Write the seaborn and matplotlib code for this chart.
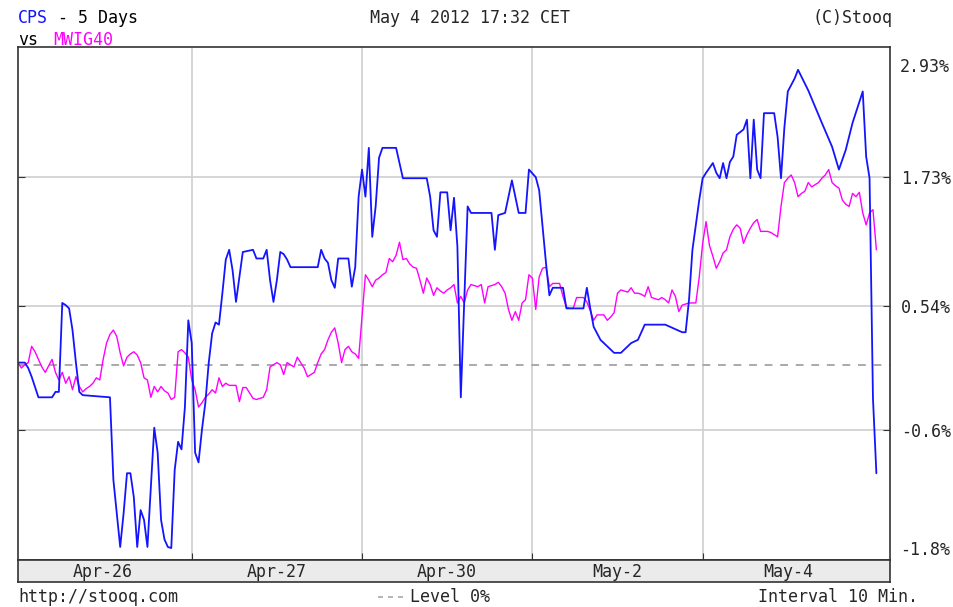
import matplotlib
matplotlib.use("Agg")
import matplotlib.pyplot as plt
from matplotlib.lines import Line2D
import seaborn as sns
import numpy as np
import pandas as pd

# time axis = 10-minute bars counted from the first session (Apr-26 09:00)
day_start = [0, 51, 101, 151, 201]
day_labels = ["Apr-26", "Apr-27", "Apr-30", "May-2", "May-4"]

# CPS: change in % vs. start, read at the turning points of the line
cps_bar = [0, 2, 3, 4, 6, 10, 11, 12, 13, 14, 15, 16, 17, 18, 19, 27, 28, 29, 30, 31,
           32, 33, 34, 35, 36, 37, 38, 39, 40, 41, 42, 43, 44, 45, 46, 47, 48, 49, 50, 51,
           52, 53, 54, 55, 56, 57, 58, 59, 60, 61, 62, 63, 64, 65, 66, 69, 70, 72, 73, 74,
           75, 76, 77, 78, 79, 80, 88, 89, 90, 91, 92, 93, 94, 97, 98, 99, 100, 101, 102, 103,
           104, 105, 106, 107, 111, 113, 120, 121, 122, 123, 124, 126, 127, 128, 129, 130, 131, 132, 133, 139,
           140, 141, 143, 144, 145, 146, 147, 149, 150, 152, 153, 154, 155, 156, 157, 160, 161, 166, 167, 168,
           169, 171, 175, 177, 180, 182, 184, 190, 195, 196, 197, 198, 200, 201, 202, 204, 205, 206, 207, 208,
           209, 210, 211, 213, 214, 215, 216, 217, 218, 219, 222, 223, 224, 225, 226, 228, 229, 232, 236, 239,
           241, 243, 245, 248, 249, 250, 251, 252]
cps_pct = [0.02, 0.02, -0.03, -0.11, -0.30, -0.30, -0.25, -0.25, 0.57, 0.55, 0.52, 0.32, 0.02, -0.25, -0.28, -0.30, -1.06, -1.37, -1.68, -1.37,
           -1.00, -1.00, -1.22, -1.68, -1.34, -1.43, -1.68, -1.13, -0.58, -0.81, -1.43, -1.61, -1.68, -1.69, -0.97, -0.71, -0.78, -0.39, 0.41, 0.20,
           -0.81, -0.90, -0.60, -0.35, 0.02, 0.29, 0.39, 0.37, 0.66, 0.97, 1.06, 0.87, 0.58, 0.81, 1.04, 1.06, 0.98, 0.98, 1.06, 0.78,
           0.58, 0.78, 1.04, 1.02, 0.97, 0.90, 0.90, 1.06, 0.98, 0.94, 0.78, 0.71, 0.98, 0.98, 0.72, 0.90, 1.55, 1.80, 1.55, 2.00,
           1.18, 1.46, 1.91, 2.00, 2.00, 1.72, 1.72, 1.55, 1.24, 1.18, 1.59, 1.59, 1.24, 1.54, 1.09, -0.30, 0.57, 1.46, 1.40, 1.40,
           1.06, 1.38, 1.40, 1.55, 1.70, 1.55, 1.40, 1.40, 1.80, 1.73, 1.61, 1.27, 0.94, 0.64, 0.71, 0.71, 0.52, 0.52, 0.71, 0.52,
           0.35, 0.23, 0.11, 0.11, 0.20, 0.23, 0.37, 0.37, 0.30, 0.30, 0.60, 1.06, 1.52, 1.72, 1.77, 1.86, 1.77, 1.72, 1.86, 1.72,
           1.87, 1.92, 2.12, 2.17, 2.26, 1.72, 2.26, 1.80, 1.72, 2.32, 2.32, 2.10, 1.72, 2.19, 2.52, 2.64, 2.72, 2.53, 2.23, 2.01,
           1.80, 1.98, 2.23, 2.52, 1.92, 1.72, -0.31, -1.00]

# MWIG40: change in %, one value per 10-minute bar
mwig40_pct = [
    0.02, -0.03, 0.00, 0.02, 0.17, 0.12, 0.05, -0.02, -0.07, -0.01,
    0.05, -0.07, -0.14, -0.07, -0.17, -0.11, -0.23, -0.11, -0.20, -0.25,
    -0.22, -0.20, -0.17, -0.12, -0.14, 0.05, 0.20, 0.28, 0.32, 0.26,
    0.11, -0.01, 0.07, 0.10, 0.12, 0.09, 0.02, -0.12, -0.14, -0.30,
    -0.20, -0.25, -0.20, -0.24, -0.26, -0.32, -0.30, 0.12, 0.14, 0.11,
    0.07, -0.14, -0.23, -0.39, -0.35, -0.30, -0.27, -0.23, -0.26, -0.12,
    -0.20, -0.17, -0.19, -0.19, -0.19, -0.34, -0.21, -0.21, -0.26, -0.31,
    -0.32, -0.31, -0.30, -0.23, -0.02, 0.00, 0.02, 0.00, -0.09, 0.02,
    0.00, -0.02, 0.07, 0.02, -0.03, -0.11, -0.09, -0.07, 0.02, 0.10,
    0.14, 0.23, 0.30, 0.34, 0.20, 0.02, 0.14, 0.17, 0.12, 0.10,
    0.06, 0.45, 0.83, 0.78, 0.72, 0.78, 0.80, 0.83, 0.85, 0.98,
    0.95, 1.01, 1.13, 0.97, 0.98, 0.93, 0.90, 0.89, 0.78, 0.66,
    0.80, 0.74, 0.64, 0.71, 0.68, 0.66, 0.69, 0.71, 0.74, 0.57,
    0.63, 0.57, 0.69, 0.74, 0.73, 0.72, 0.74, 0.57, 0.72, 0.73,
    0.74, 0.76, 0.72, 0.66, 0.51, 0.41, 0.49, 0.41, 0.57, 0.60,
    0.83, 0.80, 0.51, 0.81, 0.89, 0.90, 0.72, 0.75, 0.75, 0.75,
    0.63, 0.53, 0.52, 0.52, 0.62, 0.62, 0.62, 0.58, 0.50, 0.41,
    0.46, 0.46, 0.46, 0.41, 0.44, 0.48, 0.66, 0.69, 0.68, 0.67,
    0.71, 0.66, 0.66, 0.65, 0.63, 0.72, 0.62, 0.61, 0.60, 0.62,
    0.60, 0.57, 0.69, 0.63, 0.49, 0.55, 0.56, 0.57, 0.57, 0.57,
    0.81, 1.12, 1.32, 1.10, 1.00, 0.89, 0.95, 1.03, 1.06, 1.18,
    1.25, 1.29, 1.26, 1.12, 1.20, 1.26, 1.31, 1.34, 1.23, 1.23,
    1.23, 1.22, 1.20, 1.18, 1.46, 1.68, 1.72, 1.75, 1.68, 1.55,
    1.58, 1.60, 1.68, 1.64, 1.66, 1.68, 1.72, 1.75, 1.80, 1.68,
    1.65, 1.63, 1.52, 1.48, 1.46, 1.58, 1.55, 1.59, 1.40, 1.29,
    1.40, 1.43, 1.06,
]

grid_pct = [1.73, 0.54, -0.6]
grid_labels = ["1.73%", "0.54%", "-0.6%"]
y_top, y_bottom = 2.93, -1.8

BLUE = "#1414ff"
MAGENTA = "#ff00ff"

sns.set_style("white")
plt.rcParams["font.family"] = ["DejaVu Sans Mono"]
plt.rcParams["font.size"] = 12

W, H = 954, 607
fig = plt.figure(figsize=(W / 100, H / 100), dpi=100)


def box(l, t, r, b):
    return [l / W, 1 - b / H, (r - l) / W, (b - t) / H]


ax = fig.add_axes(box(18, 47, 890, 560))
bar = fig.add_axes(box(18, 560, 890, 582))

# grid + zero level
for v in grid_pct:
    ax.axhline(v, color="#d2d2d2", lw=1.3, zorder=0)
for d in day_start[1:]:
    ax.axvline(d, color="#d2d2d2", lw=1.3, zorder=0)
ax.axhline(0, color="#a9a9a9", lw=1.4, ls=(0, (4, 4)), zorder=1)

mw = pd.DataFrame({"bar": np.arange(len(mwig40_pct)), "pct": mwig40_pct})
cps = pd.DataFrame({"bar": cps_bar, "pct": cps_pct})
sns.lineplot(data=mw, x="bar", y="pct", ax=ax, color=MAGENTA, lw=1.0, estimator=None)
sns.lineplot(data=cps, x="bar", y="pct", ax=ax, color=BLUE, lw=1.3, estimator=None)

ax.set_xlim(0, 256)
ax.set_ylim(y_bottom, y_top)
ax.set_xlabel("")
ax.set_ylabel("")
ax.set_xticks(day_start[1:])
ax.set_xticklabels([])
ax.set_yticks(grid_pct)
ax.set_yticklabels(grid_labels)
ax.tick_params(axis="x", direction="in", length=5, color="#333333", bottom=True)
ax.tick_params(axis="y", direction="in", length=5, color="#333333", left=True, right=True,
               labelleft=False, labelright=True, labelsize=12, pad=8)
for s in ax.spines.values():
    s.set_color("#333333")
    s.set_linewidth(1.2)

# min / max labels on the right
fig.text(900 / W, 1 - 67 / H, "2.93%", va="center", ha="left", fontsize=12)
fig.text(900 / W, 1 - 550 / H, "-1.8%", va="center", ha="left", fontsize=12)

# date strip
bar.set_facecolor("#ebebeb")
bar.set_xlim(0, 256)
bar.set_ylim(0, 1)
bar.set_xticks([])
bar.set_yticks([])
for s in bar.spines.values():
    s.set_color("#333333")
    s.set_linewidth(1.2)
for start, lab in zip(day_start, day_labels):
    bar.text(start + 25, 0.45, lab, ha="center", va="center", fontsize=12)

# header
fig.text(18 / W, 1 - 18 / H, "CPS", color=BLUE, va="center", ha="left")
fig.text(48 / W, 1 - 18 / H, " - 5 Days", color="black", va="center", ha="left")
fig.text(18 / W, 1 - 40 / H, "vs", color="black", va="center", ha="left")
fig.text(53 / W, 1 - 40 / H, "MWIG40", color=MAGENTA, va="center", ha="left")
fig.text(470 / W, 1 - 18 / H, "May 4 2012 17:32 CET", va="center", ha="center")
fig.text(893 / W, 1 - 18 / H, "(C)Stooq", va="center", ha="right")

# footer
fig.text(18 / W, 1 - 597 / H, "http://stooq.com", va="center", ha="left")
fig.add_artist(Line2D([378 / W, 406 / W], [1 - 597 / H, 1 - 597 / H], color="#a9a9a9",
                      lw=1.2, ls=(0, (3, 3)), transform=fig.transFigure))
fig.text(410 / W, 1 - 597 / H, "Level 0%", va="center", ha="left")
fig.text(918 / W, 1 - 597 / H, "Interval 10 Min.", va="center", ha="right")

fig.savefig("out.png", dpi=100)
plt.close(fig)
